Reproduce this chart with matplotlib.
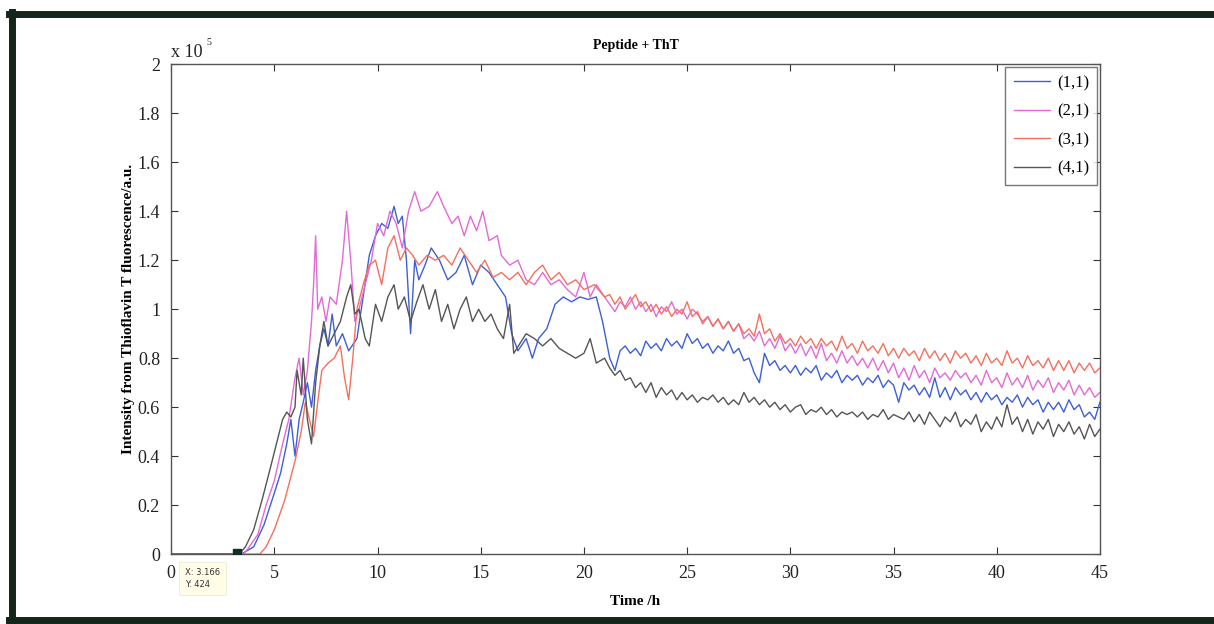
import matplotlib
matplotlib.use('Agg')
import matplotlib.pyplot as plt
from matplotlib.lines import Line2D

plt.rcParams['font.family'] = ['Liberation Serif', 'DejaVu Serif']

# intensities in units of 1e5 a.u., time in hours
# early part (lag + growth) read at uneven times
t_11_head = [0, 3.4, 4.0, 4.5, 5.0, 5.3, 5.6, 5.8, 6.0, 6.2, 6.4, 6.6, 6.8, 7.0, 7.2, 7.4,
             7.6, 7.8, 8.0, 8.3, 8.6, 9.0, 9.3, 9.6, 9.9, 10.2, 10.5, 10.8, 11.0, 11.2, 11.4,
             11.6, 11.8, 12.0, 12.3, 12.6, 13.0, 13.4, 13.8, 14.2, 14.6, 15.0, 15.4, 15.8,
             16.2, 16.5, 16.8, 17.2, 17.5, 17.8, 18.2, 18.6, 19.0, 19.4, 19.8, 20.2, 20.6,
             20.9]
y_11_head = [0, 0, 0.03, 0.12, 0.25, 0.33, 0.45, 0.55, 0.40, 0.55, 0.62, 0.70, 0.60, 0.75,
             0.85, 0.92, 0.85, 0.98, 0.85, 0.90, 0.83, 0.88, 1.05, 1.22, 1.30, 1.35, 1.33,
             1.42, 1.35, 1.38, 1.20, 0.90, 1.20, 1.12, 1.18, 1.25, 1.20, 1.12, 1.15, 1.22,
             1.10, 1.18, 1.15, 1.10, 1.05, 0.90, 0.83, 0.88, 0.80, 0.88, 0.92, 1.02, 1.05,
             1.03, 1.05, 1.04, 1.05, 0.95]

t_21_head = [0, 3.5, 3.7, 4.2, 4.6, 5.0, 5.4, 5.7, 6.0, 6.2, 6.4, 6.6, 6.8, 6.9, 7.0, 7.1,
             7.3, 7.5, 7.7, 8.0, 8.3, 8.5, 8.7, 8.9, 9.1, 9.4, 9.7, 10.0, 10.3, 10.6, 10.9,
             11.2, 11.5, 11.8, 12.1, 12.5, 12.9, 13.2, 13.6, 13.9, 14.2, 14.5, 14.8, 15.1,
             15.4, 15.8, 16.0, 16.4, 16.8, 17.2, 17.6, 18.0, 18.4, 18.8, 19.2, 19.6, 20.0,
             20.3, 20.6, 21.0]
y_21_head = [0, 0, 0.02, 0.08, 0.20, 0.30, 0.45, 0.55, 0.72, 0.80, 0.65, 0.75, 0.95, 1.10,
             1.30, 1.00, 1.05, 0.95, 1.05, 1.02, 1.20, 1.40, 1.20, 0.95, 1.00, 1.10, 1.20,
             1.35, 1.30, 1.40, 1.35, 1.25, 1.40, 1.48, 1.40, 1.42, 1.48, 1.42, 1.35, 1.38,
             1.30, 1.38, 1.32, 1.40, 1.28, 1.30, 1.22, 1.18, 1.20, 1.12, 1.10, 1.15, 1.10,
             1.12, 1.08, 1.05, 1.15, 1.05, 1.10, 1.05]

t_31_head = [0, 4.3, 4.6, 5.0, 5.5, 6.0, 6.3, 6.5, 6.7, 6.9, 7.1, 7.3, 7.6, 7.9, 8.2, 8.4,
             8.6, 8.8, 9.0, 9.3, 9.6, 9.9, 10.2, 10.5, 10.8, 11.1, 11.4, 11.7, 12.0, 12.4,
             12.8, 13.2, 13.6, 14.0, 14.4, 14.8, 15.2, 15.6, 16.0, 16.4, 16.8, 17.2, 17.6,
             18.0, 18.4, 18.8, 19.2, 19.6, 20.0, 20.5, 21.0]
y_31_head = [0, 0, 0.03, 0.10, 0.22, 0.38, 0.50, 0.62, 0.55, 0.48, 0.62, 0.75, 0.78, 0.80,
             0.85, 0.72, 0.63, 0.80, 1.00, 1.10, 1.18, 1.20, 1.10, 1.25, 1.30, 1.20, 1.25,
             1.22, 1.18, 1.22, 1.20, 1.22, 1.18, 1.25, 1.20, 1.15, 1.20, 1.13, 1.15, 1.12,
             1.15, 1.10, 1.15, 1.18, 1.12, 1.15, 1.10, 1.12, 1.08, 1.10, 1.05]

t_41_head = [0, 3.3, 3.6, 4.0, 4.4, 4.8, 5.1, 5.4, 5.6, 5.8, 6.0, 6.1, 6.3, 6.4, 6.6, 6.8,
             7.0, 7.2, 7.4, 7.6, 7.9, 8.2, 8.5, 8.7, 8.9, 9.1, 9.4, 9.6, 9.9, 10.2, 10.5,
             10.8, 11.0, 11.3, 11.6, 11.9, 12.2, 12.5, 12.8, 13.1, 13.4, 13.7, 14.0, 14.3,
             14.6, 14.9, 15.2, 15.5, 15.8, 16.1, 16.4, 16.6, 16.9, 17.2, 17.6, 18.0, 18.4,
             18.8, 19.2, 19.6, 20.0, 20.3, 20.6, 21.0]
y_41_head = [0, 0, 0.03, 0.10, 0.22, 0.35, 0.45, 0.55, 0.58, 0.56, 0.60, 0.75, 0.65, 0.80,
             0.55, 0.45, 0.70, 0.85, 0.95, 0.85, 0.90, 0.95, 1.05, 1.10, 0.98, 1.00, 0.88,
             0.85, 1.02, 0.95, 1.05, 1.10, 1.00, 1.05, 0.95, 1.03, 1.10, 1.00, 1.08, 0.95,
             1.02, 0.92, 1.00, 1.05, 0.95, 1.00, 0.95, 0.98, 0.92, 0.88, 1.02, 0.82, 0.86,
             0.90, 0.88, 0.85, 0.88, 0.84, 0.82, 0.80, 0.82, 0.88, 0.78, 0.80]

# slow decay part, read every 0.25 h from 21.25 h to 45 h (one row = 2 h)
t_tail = [21.25 + 0.25 * i for i in range(96)]
y_11_tail = [0.80, 0.75, 0.83, 0.85, 0.82, 0.84, 0.81, 0.87,
             0.84, 0.86, 0.83, 0.88, 0.85, 0.87, 0.84, 0.90,
             0.86, 0.88, 0.84, 0.86, 0.82, 0.85, 0.83, 0.87,
             0.82, 0.84, 0.79, 0.80, 0.74, 0.70, 0.82, 0.77,
             0.79, 0.75, 0.77, 0.74, 0.77, 0.73, 0.76, 0.74,
             0.77, 0.71, 0.74, 0.72, 0.75, 0.70, 0.73, 0.71,
             0.73, 0.69, 0.72, 0.70, 0.73, 0.68, 0.71, 0.69,
             0.62, 0.70, 0.67, 0.69, 0.65, 0.68, 0.64, 0.72,
             0.64, 0.68, 0.63, 0.68, 0.65, 0.67, 0.63, 0.66,
             0.62, 0.66, 0.63, 0.65, 0.61, 0.64, 0.62, 0.65,
             0.60, 0.64, 0.61, 0.63, 0.58, 0.62, 0.59, 0.62,
             0.58, 0.63, 0.59, 0.61, 0.56, 0.58, 0.55, 0.62]
y_21_tail = [1.02, 0.99, 1.03, 1.01, 1.05, 1.00, 1.03, 0.99,
             1.02, 0.97, 1.01, 0.99, 1.03, 0.98, 1.00, 0.96,
             1.00, 0.98, 0.95, 0.97, 0.93, 0.96, 0.92, 0.95,
             0.91, 0.94, 0.88, 0.90, 0.87, 0.91, 0.85, 0.88,
             0.84, 0.89, 0.83, 0.86, 0.82, 0.86, 0.81, 0.85,
             0.80, 0.86, 0.79, 0.82, 0.78, 0.83, 0.78, 0.81,
             0.77, 0.80, 0.76, 0.80, 0.75, 0.79, 0.74, 0.78,
             0.72, 0.76, 0.71, 0.77, 0.72, 0.75, 0.70, 0.76,
             0.72, 0.74, 0.71, 0.75, 0.72, 0.74, 0.70, 0.73,
             0.69, 0.75, 0.70, 0.72, 0.68, 0.74, 0.69, 0.72,
             0.68, 0.73, 0.67, 0.71, 0.68, 0.72, 0.66, 0.70,
             0.67, 0.71, 0.65, 0.69, 0.65, 0.68, 0.64, 0.66]
y_31_tail = [1.06, 1.02, 1.05, 1.00, 1.03, 1.06, 1.01, 1.03,
             0.99, 1.02, 0.98, 1.01, 0.97, 1.00, 0.98, 1.03,
             0.97, 0.99, 0.94, 0.97, 0.93, 0.96, 0.92, 0.95,
             0.91, 0.94, 0.90, 0.92, 0.89, 0.98, 0.90, 0.92,
             0.87, 0.90, 0.86, 0.88, 0.85, 0.89, 0.86, 0.88,
             0.84, 0.88, 0.85, 0.87, 0.83, 0.89, 0.84, 0.86,
             0.82, 0.87, 0.83, 0.85, 0.82, 0.86, 0.81, 0.84,
             0.80, 0.84, 0.81, 0.83, 0.79, 0.84, 0.80, 0.83,
             0.79, 0.82, 0.78, 0.83, 0.80, 0.82, 0.78, 0.81,
             0.77, 0.82, 0.78, 0.80, 0.77, 0.83, 0.78, 0.80,
             0.76, 0.81, 0.77, 0.79, 0.76, 0.80, 0.75, 0.79,
             0.75, 0.79, 0.74, 0.78, 0.75, 0.78, 0.74, 0.76]
y_41_tail = [0.76, 0.73, 0.75, 0.71, 0.72, 0.68, 0.70, 0.66,
             0.70, 0.64, 0.68, 0.65, 0.67, 0.63, 0.66, 0.63,
             0.65, 0.62, 0.64, 0.63, 0.65, 0.62, 0.64, 0.61,
             0.63, 0.61, 0.66, 0.62, 0.64, 0.61, 0.63, 0.60,
             0.62, 0.59, 0.61, 0.58, 0.60, 0.61, 0.57, 0.59,
             0.58, 0.60, 0.57, 0.59, 0.56, 0.58, 0.57, 0.58,
             0.56, 0.58, 0.55, 0.57, 0.56, 0.59, 0.55, 0.57,
             0.56, 0.55, 0.58, 0.54, 0.57, 0.53, 0.58, 0.55,
             0.52, 0.56, 0.54, 0.58, 0.52, 0.55, 0.53, 0.57,
             0.50, 0.54, 0.51, 0.56, 0.52, 0.61, 0.53, 0.56,
             0.50, 0.55, 0.49, 0.54, 0.51, 0.55, 0.48, 0.53,
             0.50, 0.54, 0.49, 0.52, 0.47, 0.53, 0.48, 0.51]

labels = ['(1,1)', '(2,1)', '(3,1)', '(4,1)']
colors = ['#3d5fd8', '#e36ad6', '#f4705e', '#555555']
series = [(t_11_head + t_tail, y_11_head + y_11_tail),
          (t_21_head + t_tail, y_21_head + y_21_tail),
          (t_31_head + t_tail, y_31_head + y_31_tail),
          (t_41_head + t_tail, y_41_head + y_41_tail)]

y_ticks = [0, 0.2, 0.4, 0.6, 0.8, 1, 1.2, 1.4, 1.6, 1.8, 2]
x_ticks = [0, 5, 10, 15, 20, 25, 30, 35, 40, 45]

# data cursor shown in the figure
tip_x, tip_y = 3.166, 424

fig = plt.figure(figsize=(12.14, 6.24), dpi=100)
ax = fig.add_axes([0.141, 0.112, 0.765, 0.785])

for (t, y), c, lab in zip(series, colors, labels):
    ax.plot(t, y, color=c, lw=1.0, label=lab)

ax.plot([tip_x], [tip_y / 1e5], marker='s', color='#103020', ms=6, zorder=5)
ax.text(0.65, -0.1, f'X: {tip_x}\nY: {tip_y}', fontsize=6, family='DejaVu Sans',
        va='center', ha='left', color='#333333', linespacing=1.5,
        bbox=dict(boxstyle='square,pad=0.7', fc='#fffde8', ec='#e8e8d0', lw=0.5),
        zorder=6, clip_on=False)

ax.set_xlim(0, 45)
ax.set_ylim(0, 2)
ax.set_xticks(x_ticks)
ax.set_yticks(y_ticks)
ax.set_yticklabels([f'{v:g}' for v in y_ticks])
ax.tick_params(direction='in', length=5, width=0.8, labelsize=13, pad=8, top=True,
               right=True, colors='#333333', labelcolor='#222222')
for s in ax.spines.values():
    s.set_color('#555555')
    s.set_linewidth(1.0)

ax.set_title('Peptide + ThT', fontsize=10, fontweight='bold', pad=11)
ax.set_xlabel('Time /h', fontsize=11, fontweight='bold', labelpad=9)
ax.set_ylabel('Intensity from Thioflavin T fluorescence/a.u.', fontsize=11,
              fontweight='bold', labelpad=2)
ax.text(0.0, 1.006, 'x 10', transform=ax.transAxes, fontsize=13, va='bottom',
        ha='left', color='#222222')
ax.text(0.038, 1.035, '5', transform=ax.transAxes, fontsize=7, va='bottom',
        ha='left', color='#222222')

leg = ax.legend(handles=[Line2D([], [], color=c, lw=1.0) for c in colors], labels=labels,
                loc='upper right', fontsize=12, frameon=True, fancybox=False,
                borderaxespad=0.15, handlelength=2.2, handletextpad=0.4,
                labelspacing=0.75, borderpad=0.5)
leg.get_frame().set_edgecolor('#555555')
leg.get_frame().set_linewidth(1.0)

# dark scan border around the figure
border = '#14261c'
fig.add_artist(Line2D([9 / 1214, 1.0], [1 - 14 / 624, 1 - 14 / 624], color=border, lw=5,
                      transform=fig.transFigure))
fig.add_artist(Line2D([12 / 1214, 12 / 1214], [1 - 12 / 624, 4 / 624], color=border, lw=5,
                      transform=fig.transFigure))
fig.add_artist(Line2D([9 / 1214, 1.0], [4 / 624, 4 / 624], color=border, lw=5,
                      transform=fig.transFigure))

fig.savefig('out.png', dpi=100)
